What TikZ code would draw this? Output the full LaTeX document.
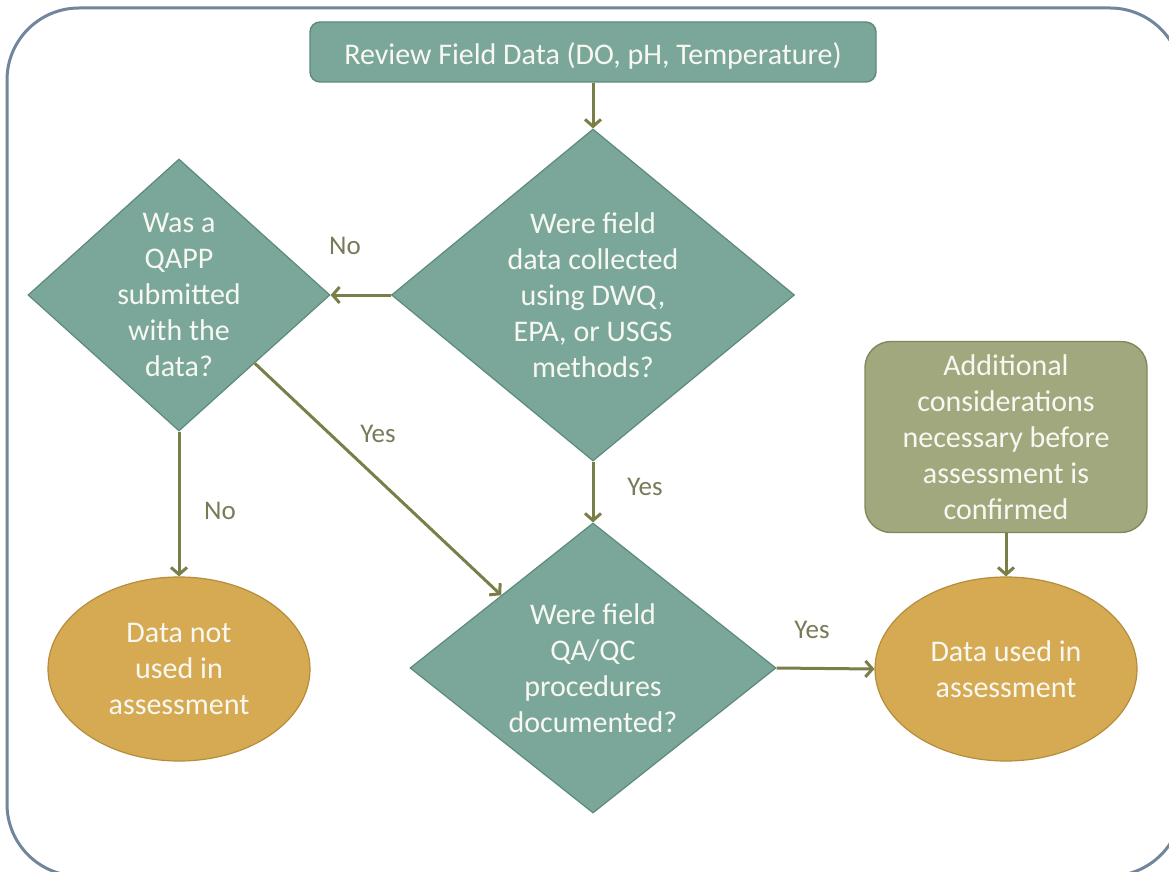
\documentclass[tikz,border=0pt]{standalone}
\usepackage{fontspec}
\setmainfont{Carlito}
\usetikzlibrary{shapes.geometric,arrows.meta,calc}

\definecolor{tealfill}{RGB}{122,167,153}
\definecolor{tealedge}{RGB}{92,138,125}
\definecolor{goldfill}{RGB}{214,170,82}
\definecolor{goldedge}{RGB}{180,142,60}
\definecolor{olivefill}{RGB}{162,168,126}
\definecolor{oliveedge}{RGB}{128,136,94}
\definecolor{flowcol}{RGB}{122,126,72}
\definecolor{labelcol}{RGB}{120,122,88}
\definecolor{framecol}{RGB}{112,134,156}
\definecolor{textwhite}{RGB}{248,248,242}

\tikzset{
  boxtext/.style={text=textwhite, align=center, font=\fontsize{30}{36}\selectfont},
  startbox/.style={boxtext, draw=tealedge, fill=tealfill, line width=1.4pt,
    rounded corners=10pt, minimum width=566pt, minimum height=60pt, inner sep=0pt,
    text height=26pt, text depth=0pt},
  decision/.style={boxtext, diamond, draw=tealedge, fill=tealfill, line width=1.2pt,
    inner sep=-50pt},
  outcome/.style={boxtext, ellipse, draw=goldedge, fill=goldfill, line width=1.2pt,
    inner sep=-30pt, minimum width=262pt, minimum height=184pt},
  notebox/.style={boxtext, draw=oliveedge, fill=olivefill, line width=1.4pt,
    rounded corners=26pt, minimum width=282pt, minimum height=191pt, inner sep=0pt},
  flow/.style={draw=flowcol, line width=3pt,
    -{Straight Barb[length=7pt,width=16pt]}},
  answer/.style={text=labelcol, font=\fontsize{27}{30}\selectfont, inner sep=0pt},
}

\begin{document}
\begin{tikzpicture}[x=1pt,y=-1pt]
  \useasboundingbox (0,0) rectangle (1169,872);
  \begin{scope}
    \clip (0,0) rectangle (1169,872);
    % slide frame
    \draw[framecol, line width=3pt, rounded corners=72pt] (7,8) rectangle (1182,876);
  \end{scope}

  % nodes
  \node[startbox] (review) at (593,52) {Review Field Data (DO, pH, Temperature)};
  \node[decision, minimum width=403pt, minimum height=332pt] (methods) at (593,295)
    {Were field\\data collected\\using DWQ,\\EPA, or USGS\\methods?};
  \node[decision, minimum width=302pt, minimum height=272pt] (qapp) at (179,295)
    {Was a\\QAPP\\submitted\\with the\\data?};
  \node[decision, minimum width=366pt, minimum height=290pt] (qaqc) at (593,668)
    {Were field\\QA/QC\\procedures\\documented?};
  \node[outcome] (notused) at (179,669) {Data not\\used in\\assessment};
  \node[outcome] (used) at (1006,669) {Data used in\\assessment};
  \node[notebox] (extra) at (1006,437)
    {Additional\\considerations\\necessary before\\assessment is\\confirmed};

  % connectors
  \draw[flow] (review.south) -- (methods.north);
  \draw[flow] (methods.west) -- (qapp.east);
  \draw[flow] (methods.south) -- (qaqc.north);
  \draw[flow] (qapp.south) -- (notused.north);
  \draw[flow] ($(qapp.east)!0.5!(qapp.south)$) -- ($(qaqc.west)!0.5!(qaqc.north)$);
  \draw[flow] (qaqc.east) -- (used.west);
  \draw[flow] (extra.south) -- (used.north);

  % answers on the connectors
  \node[answer] (noA) at (345,246) {No};
  \node[answer] (noB) at (220,511) {No};
  \node[answer] (yesA) at (378,434) {Yes};
  \node[answer] (yesB) at (645,487) {Yes};
  \node[answer] (yesC) at (812,630) {Yes};
\end{tikzpicture}
\end{document}
